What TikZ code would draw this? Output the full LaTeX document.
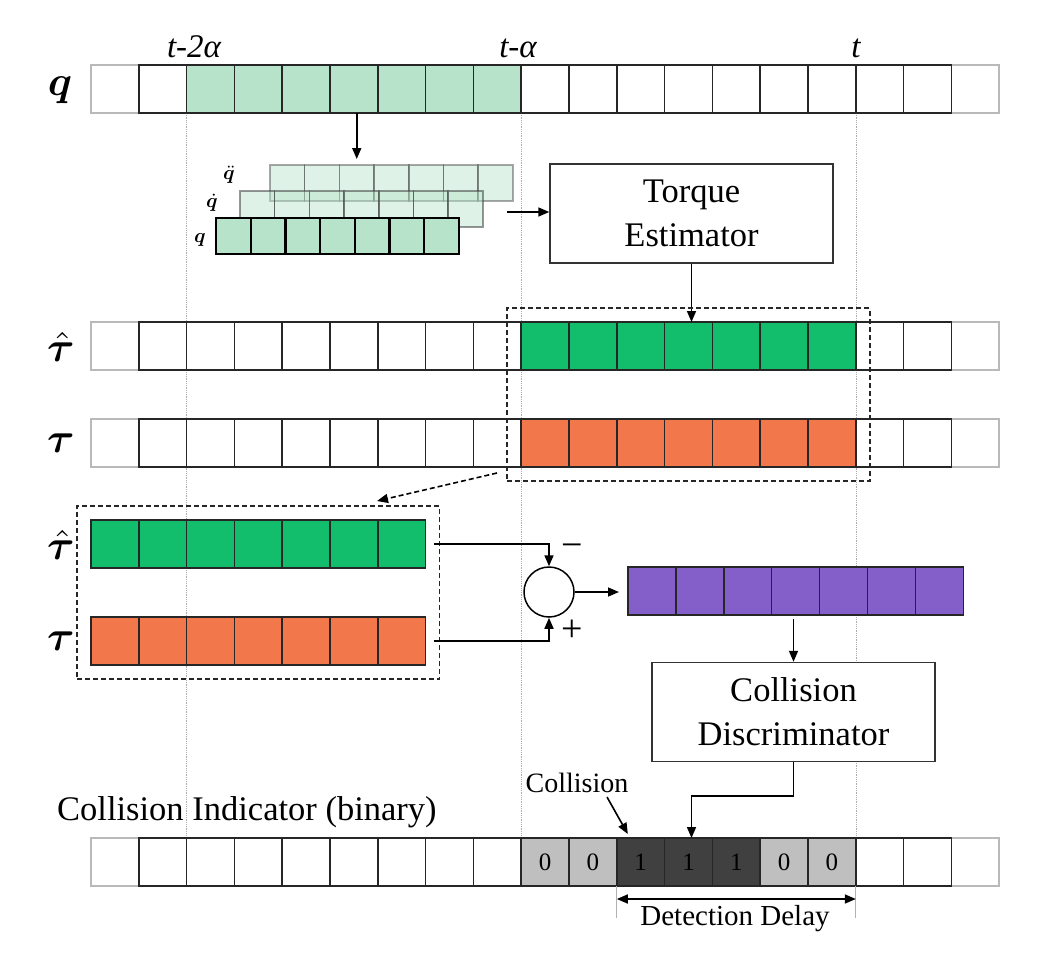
\documentclass[tikz,border=0pt]{standalone}
\usepackage{graphicx}
\usepackage{amsmath}
\usepackage{bm}
\usepackage{fontspec}
\setmainfont{Liberation Serif}
\usetikzlibrary{arrows.meta,fit,calc}
\definecolor{lgreen}{HTML}{B6E3C9}
\definecolor{sgreen}{HTML}{12BE6C}
\definecolor{sorange}{HTML}{F2774A}
\definecolor{spurple}{HTML}{855FC9}
\definecolor{lgray}{HTML}{BFBFBF}
\definecolor{dgray}{HTML}{404040}
\newcommand{\bigmath}[1]{\scalebox{4.2}{$#1$}}
\newcommand{\smallmath}[1]{\scalebox{2.0}{$#1$}}
\begin{document}
\begin{tikzpicture}[x=1pt,y=-1pt,
  cell/.style={draw=black!85, line width=1.5pt, minimum width=47.8pt, minimum height=48pt, inner sep=0pt, outer sep=0pt, fill=white},
  ecell/.style={cell, draw=gray!55},
  scell/.style={line width=1.5pt, minimum width=34.7pt, minimum height=36pt, inner sep=0pt, outer sep=0pt},
  arr/.style={line width=1.6pt, -{Triangle[length=11pt,width=9pt]}},
  darr/.style={line width=1.6pt, {Triangle[length=11pt,width=9pt]}-{Triangle[length=11pt,width=9pt]}},
  dbox/.style={draw=black!85, line width=1.6pt, dash pattern=on 5pt off 3pt, inner sep=14pt},
  vguide/.style={gray!65, densely dotted, line width=0.8pt},
  proc/.style={draw=black!80, line width=1.4pt, fill=white, align=center, font=\fontsize{34.5}{44}\selectfont, inner sep=0pt, minimum width=283pt, minimum height=99pt},
  biglab/.style={font=\normalsize, inner sep=0pt},
  smalllab/.style={font=\normalsize, inner sep=0pt},
  tlab/.style={font=\fontsize{33}{36}\selectfont\itshape, inner sep=0pt, anchor=base},
  digit/.style={font=\fontsize{25}{28}\selectfont},
  sign/.style={font=\fontsize{38}{40}\selectfont, inner sep=0pt}
]
\useasboundingbox (0,0) rectangle (1044,954);

% vertical guides
\draw[vguide] (186.6,113) -- (186.6,838);
\draw[vguide] (521,113) -- (521,838);
\draw[vguide] (856,113) -- (856,838);

% time labels
\node[tlab] (l2a) at (194,57) {t-2α};
\node[tlab] (l1a) at (518,57) {t-α};
\node[tlab] (l0) at (856,57) {t};

% q row
\node[ecell] (q-0) at ({91+47.8*0.5},89) {};
\node[ecell] (q-18) at ({91+47.8*18.5},89) {};
\foreach \i in {1,...,17}{
  \ifnum\i<2 \def\fc{white}\else\ifnum\i>8 \def\fc{white}\else\def\fc{lgreen}\fi\fi
  \node[cell, fill=\fc] (q-\i) at ({91+47.8*(\i+0.5)},89) {};
}
\node[biglab] (lq) at (60,90) {\bigmath{\bm{q}}};

% stacked rows
\foreach \i in {0,...,6}{
  \node[scell, fill=lgreen, fill opacity=0.45, draw=black!75, draw opacity=0.45] (qdd-\i) at ({270+34.7*(\i+0.5)},183) {};
}
\foreach \i in {0,...,6}{
  \node[scell, fill=lgreen, fill opacity=0.45, draw=black!75, draw opacity=0.55] (qd-\i) at ({240+34.7*(\i+0.5)},209) {};
}
\foreach \i in {0,...,6}{
  \node[scell, fill=lgreen, draw=black, line width=2.2pt] (qs-\i) at ({216+34.7*(\i+0.5)},236) {};
}
\node[smalllab] (lqdd) at (229,175) {\smallmath{\bm{\ddot q}}};
\node[smalllab] (lqd) at (212,203) {\smallmath{\bm{\dot q}}};
\node[smalllab] (lqs) at (200,240) {\smallmath{\bm{q}}};

\draw[arr] (q-5.south -| qdd-2.north) -- ([yshift=6pt]qdd-2.north);

% torque estimator
\node[proc] (torque) at (691.5,213.5) {Torque\\Estimator};
\coordinate (tin) at (507,212);
\draw[arr] (tin) -- (tin -| torque.west);

% tau hat row
\node[ecell] (th-0) at ({91+47.8*0.5},346) {};
\node[ecell] (th-18) at ({91+47.8*18.5},346) {};
\foreach \i in {1,...,17}{
  \ifnum\i<9 \def\fc{white}\else\ifnum\i>15 \def\fc{white}\else\def\fc{sgreen}\fi\fi
  \node[cell, fill=\fc] (th-\i) at ({91+47.8*(\i+0.5)},346) {};
}
\node[biglab] (lth) at (61,347) {\bigmath{\bm{\hat\tau}}};

% tau row
\node[ecell] (tt-0) at ({91+47.8*0.5},443) {};
\node[ecell] (tt-18) at ({91+47.8*18.5},443) {};
\foreach \i in {1,...,17}{
  \ifnum\i<9 \def\fc{white}\else\ifnum\i>15 \def\fc{white}\else\def\fc{sorange}\fi\fi
  \node[cell, fill=\fc] (tt-\i) at ({91+47.8*(\i+0.5)},443) {};
}
\node[biglab] (ltt) at (61,443) {\bigmath{\bm{\tau}}};

\draw[arr] (torque.south) -- (torque.south |- th-12.north);

\node[dbox, fit=(th-9)(tt-15)] (box1) {};

% lower copies
\foreach \i in {0,...,6}{
  \node[cell, fill=sgreen] (lg-\i) at ({91+47.8*(\i+0.5)},544) {};
  \node[cell, fill=sorange] (lo-\i) at ({91+47.8*(\i+0.5)},641) {};
}
\node[biglab] (lth2) at (61,545) {\bigmath{\bm{\hat\tau}}};
\node[biglab] (ltt2) at (61,641) {\bigmath{\bm{\tau}}};
\node[dbox, fit=(lg-0)(lo-6)] (box2) {};

\coordinate (dstart) at (497,473);
\coordinate (dend) at (377,501);
\draw[line width=1.6pt, dash pattern=on 5pt off 3pt, -{Triangle[length=11pt,width=9pt]}] (dstart) -- (dend);

% summation
\node[circle, draw, line width=1.5pt, minimum size=50pt, inner sep=0pt] (sum) at (549,592) {};
\draw[arr] ([xshift=8pt]lg-6.east) -| (sum.north);
\draw[arr] ([xshift=8pt]lo-6.east) -| (sum.south);
\node[sign] (minus) at (572,551) {−};
\node[sign] (plus) at (572,631) {+};

% purple row
\foreach \i in {0,...,6}{
  \node[cell, fill=spurple, minimum width=47.9pt] (p-\i) at ({628+47.9*(\i+0.5)},591) {};
}
\draw[arr] (sum.east) -- ([xshift=-9pt]sum.east -| p-0.west);

% collision discriminator
\node[proc] (disc) at (793.5,712) {Collision\\Discriminator};
\draw[arr] ([yshift=-4pt]disc.north |- p-3.south) -- (disc.north);

% bottom row
\node[ecell] (b-0) at ({91+47.8*0.5},862) {};
\node[ecell] (b-18) at ({91+47.8*18.5},862) {};
\foreach \i in {1,...,8,16,17}{
  \node[cell] (b-\i) at ({91+47.8*(\i+0.5)},862) {};
}
\foreach \i/\f/\d in {9/lgray/0,10/lgray/0,11/dgray/1,12/dgray/1,13/dgray/1,14/lgray/0,15/lgray/0}{
  \node[cell, fill=\f, digit] (b-\i) at ({91+47.8*(\i+0.5)},862) {\d};
}
\node[font=\fontsize{34.5}{40}\selectfont, inner sep=0pt, anchor=base west] (cind) at (57,820) {Collision Indicator (binary)};

\draw[arr] (disc.south) -- ++(0,34) -| ([xshift=3pt]b-12.north);

\node[font=\fontsize{28}{30}\selectfont, inner sep=0pt, anchor=base] (coll) at (577,792) {Collision};
\coordinate (cstart) at (607,797);
\draw[arr] (cstart) -- ([shift={(11pt,4pt)}]b-11.north west);

% detection delay
\draw[gray!60, line width=0.8pt] (b-11.south west) -- ++(0,32);
\draw[gray!60, line width=0.8pt] (b-15.south east) -- ++(0,32);
\draw[darr] ([yshift=-13pt]b-11.south west) -- ([yshift=-13pt]b-15.south east);
\node[font=\fontsize{29}{32}\selectfont, inner sep=0pt, anchor=base] (ddel) at (735,925) {Detection Delay};
\end{tikzpicture}
\end{document}
